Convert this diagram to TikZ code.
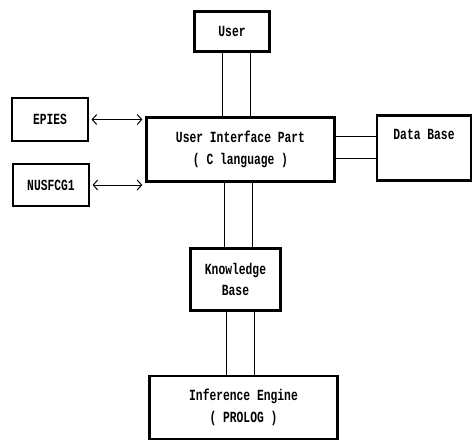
\documentclass[tikz,border=0pt]{standalone}
\usepackage{fontspec}
\setmonofont[FakeStretch=0.73]{Liberation Mono}
\usetikzlibrary{arrows.meta}

\begin{document}
\begin{tikzpicture}[x=1pt,y=-1pt,
  thickbox/.style={draw,line width=2.4pt,align=center,inner sep=0pt,
    font=\ttfamily\bfseries\fontsize{15.5}{21.5}\selectfont},
  thinbox/.style={draw,line width=1.1pt,align=center,inner sep=0pt,
    font=\ttfamily\bfseries\fontsize{15.5}{21.5}\selectfont},
  link/.style={line width=1pt},
  arr/.style={{Straight Barb[length=4.5pt,width=10pt]}-{Straight Barb[length=4.5pt,width=10pt]},line width=1pt}]
\useasboundingbox (0,0) rectangle (474,441);
\node[thickbox,minimum width=75pt,minimum height=40pt] (user) at (232,31.5) {User};
\node[thickbox,minimum width=188pt,minimum height=64pt] (ui) at (240.5,149.5) {User Interface Part\\( C language )};
\node[thinbox,minimum width=76pt,minimum height=43pt] (epies) at (50,119.5) {EPIES};
\node[thinbox,minimum width=76pt,minimum height=42pt] (nus) at (51,185) {NUSFCG1};
\node[thickbox,minimum width=94pt,minimum height=65pt] (db) at (424,148) {Data Base\\\strut};
\node[thickbox,minimum width=90pt,minimum height=62pt] (kb) at (235.5,279.5) {Knowledge\\Base};
\node[thickbox,minimum width=188pt,minimum height=63pt] (ie) at (243.5,407.5) {Inference Engine\\( PROLOG )};
% double lines between the main parts
\draw[link] ([xshift=-10pt]user.south) -- ([xshift=-10pt]user.south |- ui.north);
\draw[link] ([xshift=18pt]user.south) -- ([xshift=18pt]user.south |- ui.north);
\draw[link] ([xshift=-16.5pt]ui.south) -- ([xshift=-16.5pt]ui.south |- kb.north);
\draw[link] ([xshift=11.5pt]ui.south) -- ([xshift=11.5pt]ui.south |- kb.north);
\draw[link] ([xshift=-9.5pt]kb.south) -- ([xshift=-9.5pt]kb.south |- ie.north);
\draw[link] ([xshift=18.5pt]kb.south) -- ([xshift=18.5pt]kb.south |- ie.north);
\draw[link] ([yshift=12.5pt]ui.east) -- ([yshift=12.5pt]ui.east -| db.west);
\draw[link] ([yshift=-9.5pt]ui.east) -- ([yshift=-9.5pt]ui.east -| db.west);
% outside systems
\draw[arr,shorten <=3pt,shorten >=3pt] (epies.east) -- (epies.east -| ui.west);
\draw[arr,shorten <=3pt,shorten >=3pt] (nus.east) -- (nus.east -| ui.west);
\end{tikzpicture}
\end{document}
